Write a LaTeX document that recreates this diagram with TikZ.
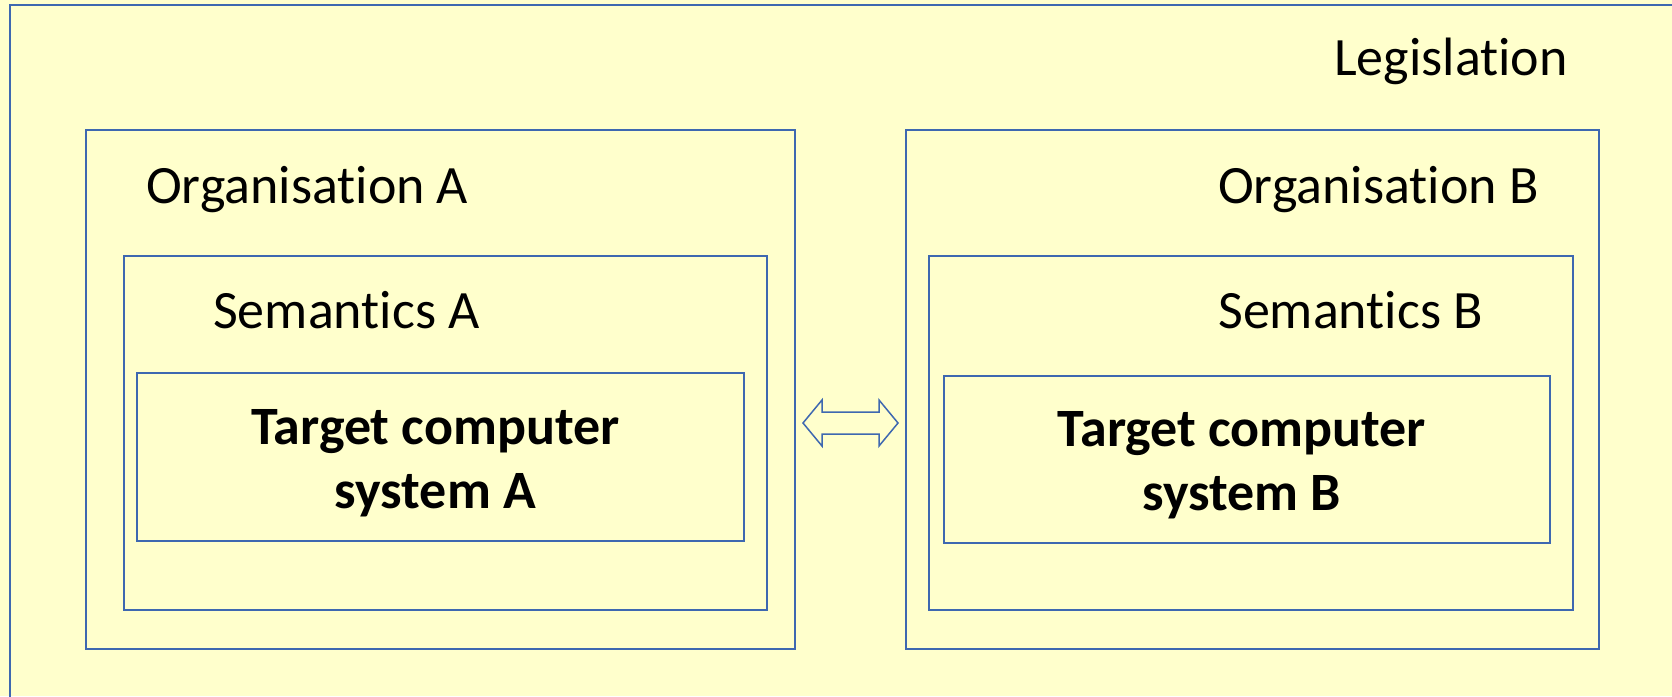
\documentclass[tikz,border=0pt]{standalone}
\usepackage{fontspec}
\setmainfont{Carlito}[Ligatures={NoCommon}]
% break the font's "ti" ligature
\newcommand{\nolig}{\kern0pt}
\definecolor{paper}{RGB}{255,255,204}
\definecolor{frame}{RGB}{62,104,176}
\tikzset{
  frambox/.style={draw=frame, line width=1.6pt, fill=paper, inner sep=0pt, anchor=north west},
  caption/.style={inner sep=0pt, anchor=base west, font=\fontsize{54}{64}\selectfont},
  system/.style={inner sep=0pt, align=center, font=\fontsize{54}{64}\selectfont\bfseries},
  linkarrow/.style={draw=frame, line width=1.5pt, line join=miter}
}
\begin{document}
\begin{tikzpicture}[x=1pt, y=-1pt]
  \useasboundingbox (0,0) rectangle (1672,696);
  \clip (0,0) rectangle (1672,696);
  \fill[paper] (0,0) rectangle (1672,696);
  % outer frame runs off the right and bottom edges
  \draw[frame, line width=2.2pt] (10,720) -- (10,5) -- (1700,5);
  \node[caption] (legis) at (1334,75) {Legislat\nolig ion};

  % organisation A
  \node[frambox, minimum width=709pt, minimum height=519pt] (orgA) at (85,129) {};
  \node[caption] (orgAlab) at (146,203) {Organisat\nolig ion A};
  \node[frambox, minimum width=643pt, minimum height=354pt] (semA) at (123,255) {};
  \node[caption] (semAlab) at (213,328) {Semant\nolig ics A};
  \node[frambox, minimum width=607pt, minimum height=168pt] (tgtA) at (136,372) {};
  \node[system] (tgtAlab) at ([xshift=-5pt, yshift=-6pt]tgtA.center) {Target computer\\system A};

  % organisation B
  \node[frambox, minimum width=693pt, minimum height=519pt] (orgB) at (905,129) {};
  \node[caption] (orgBlab) at (1218,203) {Organisat\nolig ion B};
  \node[frambox, minimum width=644pt, minimum height=354pt] (semB) at (928,255) {};
  \node[caption] (semBlab) at (1218,328) {Semant\nolig ics B};
  \node[frambox, minimum width=606pt, minimum height=167pt] (tgtB) at (943,375) {};
  \node[system] (tgtBlab) at ([xshift=-5pt, yshift=-6pt]tgtB.center) {Target computer\\system B};

  % two-way exchange between the organisations
  \coordinate (tipL) at (803,423);
  \coordinate (tipR) at (898,423);
  \draw[linkarrow] (tipL) -- (822,400) -- (822,412) -- (879,412) -- (879,400)
    -- (tipR) -- (879,446) -- (879,434) -- (822,434) -- (822,446) -- cycle;
\end{tikzpicture}
\end{document}
